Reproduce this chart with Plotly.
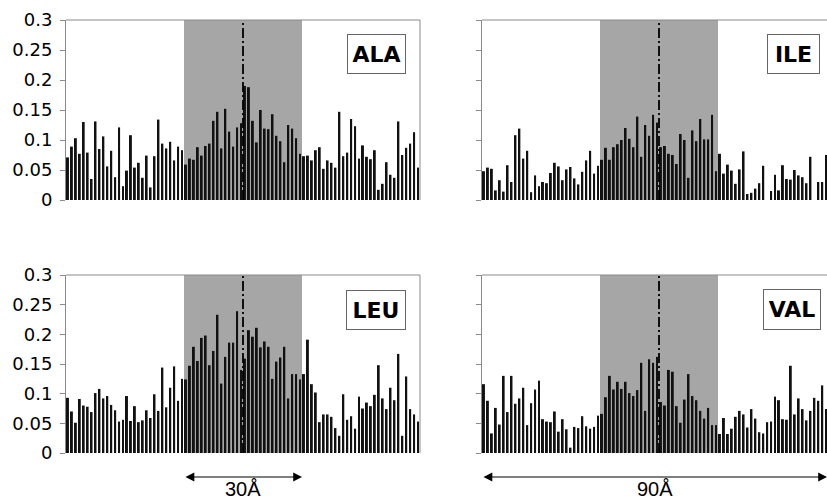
import plotly.graph_objects as go

# ---------------- data ----------------
bins_full = [i + 0.5 for i in range(90)]          # 1 Å bins over 90 Å
tick_vals = [0, 0.05, 0.1, 0.15, 0.2, 0.25, 0.3]
tick_text = ["0", "0.05", "0.1", "0.15", "0.2", "0.25", "0.3"]
panel_names = ["ALA", "ILE", "LEU", "VAL"]
core_start, core_end, core_mid = 30, 60, 45     # shaded 30 Å core and centre line

ala = [0.071, 0.089, 0.103, 0.077, 0.130, 0.079, 0.035, 0.131, 0.085, 0.106,
       0.056, 0.082, 0.038, 0.121, 0.023, 0.049, 0.108, 0.054, 0.062, 0.037,
       0.074, 0.021, 0.073, 0.134, 0.094, 0.086, 0.097, 0.066, 0.089, 0.083,
       0.059, 0.069, 0.067, 0.088, 0.074, 0.090, 0.094, 0.132, 0.147, 0.086,
       0.152, 0.114, 0.089, 0.121, 0.128, 0.190, 0.188, 0.132, 0.096, 0.150,
       0.119, 0.118, 0.143, 0.107, 0.098, 0.063, 0.125, 0.119, 0.103, 0.077,
       0.073, 0.074, 0.066, 0.083, 0.088, 0.052, 0.066, 0.062, 0.054, 0.147,
       0.073, 0.079, 0.135, 0.123, 0.069, 0.091, 0.072, 0.068, 0.083, 0.017,
       0.027, 0.063, 0.042, 0.037, 0.131, 0.075, 0.087, 0.094, 0.113, 0.054]

# right-hand panels are cut by the picture edge: only the first 88 bins are visible
ile = [0.048, 0.054, 0.052, 0.016, 0.033, 0.014, 0.058, 0.030, 0.108, 0.119,
       0.069, 0.082, 0.013, 0.041, 0.023, 0.030, 0.028, 0.045, 0.062, 0.056,
       0.033, 0.051, 0.055, 0.036, 0.026, 0.047, 0.066, 0.082, 0.044, 0.057,
       0.067, 0.087, 0.067, 0.088, 0.093, 0.100, 0.120, 0.102, 0.088, 0.139,
       0.072, 0.125, 0.107, 0.142, 0.129, 0.088, 0.090, 0.077, 0.075, 0.060,
       0.110, 0.100, 0.037, 0.116, 0.098, 0.135, 0.101, 0.101, 0.142, 0.048,
       0.077, 0.044, 0.059, 0.049, 0.027, 0.051, 0.081, 0.010, 0.012, 0.019,
       0.028, 0.057, 0.000, 0.015, 0.042, 0.016, 0.058, 0.035, 0.034, 0.050,
       0.041, 0.038, 0.028, 0.072, 0.000, 0.030, 0.030, 0.075]

leu = [0.093, 0.070, 0.051, 0.091, 0.080, 0.078, 0.069, 0.101, 0.108, 0.092,
       0.096, 0.081, 0.072, 0.053, 0.056, 0.096, 0.054, 0.079, 0.052, 0.055,
       0.072, 0.059, 0.099, 0.071, 0.144, 0.077, 0.110, 0.146, 0.088, 0.125,
       0.124, 0.147, 0.179, 0.155, 0.194, 0.198, 0.148, 0.172, 0.233, 0.117,
       0.162, 0.186, 0.186, 0.239, 0.140, 0.159, 0.207, 0.196, 0.211, 0.178,
       0.188, 0.179, 0.125, 0.154, 0.161, 0.179, 0.092, 0.133, 0.133, 0.124,
       0.133, 0.191, 0.116, 0.102, 0.052, 0.065, 0.065, 0.061, 0.042, 0.029,
       0.099, 0.056, 0.062, 0.041, 0.095, 0.075, 0.085, 0.079, 0.098, 0.148,
       0.092, 0.074, 0.110, 0.089, 0.167, 0.029, 0.129, 0.074, 0.065, 0.053]

val = [0.116, 0.088, 0.033, 0.076, 0.048, 0.130, 0.069, 0.130, 0.083, 0.092,
       0.110, 0.047, 0.084, 0.107, 0.122, 0.057, 0.053, 0.052, 0.070, 0.036,
       0.057, 0.040, 0.009, 0.044, 0.042, 0.062, 0.045, 0.041, 0.044, 0.063,
       0.066, 0.094, 0.130, 0.107, 0.120, 0.108, 0.120, 0.101, 0.096, 0.106,
       0.152, 0.071, 0.158, 0.152, 0.162, 0.086, 0.080, 0.140, 0.137, 0.079,
       0.051, 0.090, 0.133, 0.096, 0.089, 0.071, 0.058, 0.076, 0.047, 0.047,
       0.032, 0.059, 0.032, 0.041, 0.061, 0.071, 0.065, 0.043, 0.074, 0.058,
       0.035, 0.033, 0.052, 0.053, 0.095, 0.089, 0.057, 0.056, 0.147, 0.065,
       0.092, 0.074, 0.055, 0.071, 0.093, 0.088, 0.114, 0.074]

series = [ala, ile, leu, val]

# ---------------- layout ----------------
W, H = 827, 501
AX_GRAY = "#8a8a8a"
SHADE = "#a6a6a6"

def px_x(p):
    return p / W

def px_y(p):
    return 1 - p / H

# pixel boxes of the four plot areas (left, right, top, bottom)
boxes = [
    (66, 420, 20, 200),
    (482, 827, 20, 200),
    (66, 420, 275, 453),
    (482, 827, 275, 453),
]
full_w = 354.0  # width of a full 90-Å panel in pixels

fig = go.Figure()
layout = dict(
    template="none",
    width=W, height=H,
    margin=dict(l=0, r=0, t=0, b=0, pad=0, autoexpand=False),
    paper_bgcolor="white", plot_bgcolor="rgba(0,0,0,0)",
    showlegend=False, bargap=0.5,
    font=dict(family="DejaVu Sans", color="black"),
)
shapes = []
annotations = []

for k, (x0, x1, y0, y1) in enumerate(boxes):
    n = k + 1
    xa = "x" if n == 1 else f"x{n}"
    ya = "y" if n == 1 else f"y{n}"
    ys = series[k]
    xs = bins_full[:len(ys)]
    fig.add_trace(go.Bar(x=xs, y=ys, xaxis=xa, yaxis=ya, width=0.5,
                         marker=dict(color="#111111", line=dict(width=0))))
    xmax = 90 * (x1 - x0) / full_w
    left_side = k in (0, 2)
    layout[f"xaxis{'' if n == 1 else n}"] = dict(
        domain=[px_x(x0), px_x(x1)], range=[0, xmax], anchor=ya, automargin=False,
        showticklabels=False, showgrid=False, zeroline=False, showline=False, ticks="")
    layout[f"yaxis{'' if n == 1 else n}"] = dict(
        domain=[px_y(y1), px_y(y0)], range=[0, 0.3], anchor=xa, automargin=False,
        tickvals=tick_vals, ticktext=tick_text, showticklabels=left_side,
        ticks="outside", ticklen=5, tickcolor=AX_GRAY, tickwidth=1,
        ticklabelstandoff=4,
        showline=True, linecolor=AX_GRAY, linewidth=1,
        showgrid=False, zeroline=False,
        tickfont=dict(family="DejaVu Sans", size=18, color="black"))
    # shaded core
    shapes.append(dict(type="rect", xref=xa, yref=f"{ya} domain",
                       x0=core_start, x1=core_end, y0=0, y1=1,
                       fillcolor=SHADE, line=dict(width=0), layer="below"))
    # centre dash-dot line
    shapes.append(dict(type="line", xref=xa, yref=f"{ya} domain",
                       x0=core_mid, x1=core_mid, y0=0, y1=1,
                       line=dict(color="black", width=1.8, dash="10px,3px,2px,3px"),
                       layer="above"))
    # top border
    shapes.append(dict(type="line", xref=f"{xa} domain", yref=f"{ya} domain",
                       x0=0, x1=1, y0=1, y1=1, line=dict(color=AX_GRAY, width=1)))
    if left_side:
        shapes.append(dict(type="line", xref=f"{xa} domain", yref=f"{ya} domain",
                           x0=1, x1=1, y0=0, y1=1, line=dict(color=AX_GRAY, width=1)))

# label boxes: (centre x px, centre y px, width px, height px)
label_boxes = [(376.5, 54, 59, 40), (793.5, 54, 53, 40),
               (376, 310, 60, 40), (792, 309.5, 58, 41)]
for name, (cx, cy, bw, bh) in zip(panel_names, label_boxes):
    annotations.append(dict(
        xref="paper", yref="paper", x=px_x(cx), y=px_y(cy),
        xanchor="center", yanchor="middle", showarrow=False,
        text=f"<b>{name}</b>", font=dict(family="DejaVu Sans", size=22, color="black"),
        width=bw - 2, height=bh - 2, bordercolor="#666666", borderwidth=1,
        borderpad=0, bgcolor="white", align="center", valign="middle"))

# scale arrows under the bottom panels
arrow_y = px_y(477)
annotations.append(dict(xref="x3", yref="paper", x=core_end, y=arrow_y,
                        axref="x3", ayref="pixel", ax=core_start, ay=0,
                        text="", showarrow=True, arrowside="end+start",
                        arrowhead=2, arrowsize=1.6, arrowwidth=1.1, arrowcolor="black",
                        standoff=0, startstandoff=0))
annotations.append(dict(xref="x4 domain", yref="paper", x=1, y=arrow_y,
                        axref="x4 domain", ayref="pixel", ax=0, ay=0,
                        text="", showarrow=True, arrowside="end+start",
                        arrowhead=2, arrowsize=1.6, arrowwidth=1.1, arrowcolor="black",
                        standoff=0, startstandoff=0))
annotations.append(dict(xref="x3", yref="paper", x=core_mid, y=px_y(489),
                        xanchor="center", yanchor="middle", showarrow=False,
                        text="30Å", font=dict(family="Liberation Sans", size=20, color="black")))
annotations.append(dict(xref="x4 domain", yref="paper", x=0.5, y=px_y(489),
                        xanchor="center", yanchor="middle", showarrow=False,
                        text="90Å", font=dict(family="Liberation Sans", size=20, color="black")))

layout["shapes"] = shapes
layout["annotations"] = annotations
fig.update_layout(**layout)
fig.write_html("out.html")
